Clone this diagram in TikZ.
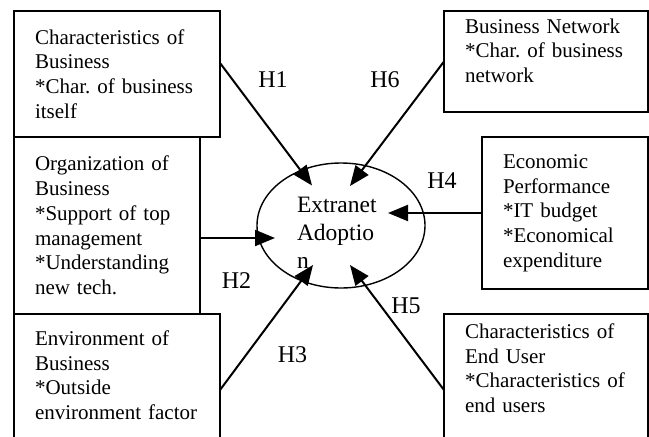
\documentclass[tikz,border=0pt]{standalone}
\usepackage{fontspec}
\setmainfont{Liberation Serif}
\usetikzlibrary{arrows.meta, shapes.geometric, calc}
\frenchspacing

\tikzset{
  factor/.style={
    rectangle, draw=black, line width=1.4pt, anchor=north west, outer sep=0pt,
    align=left, inner xsep=21pt, inner ysep=0pt,
    font=\fontsize{21}{24.7}\selectfont
  },
  hyp/.style={
    -{Triangle[length=20pt,width=16pt]}, line width=2pt
  }
}

\begin{document}
\begin{tikzpicture}[
  x=1pt, y=-1pt,
  core/.style={ellipse, draw=black, line width=1.4pt, minimum width=168pt, minimum height=125pt,
    inner sep=0pt, align=left, text width=88pt, text height=30pt, font=\fontsize{23.5}{28}\selectfont},
  hlabel/.style={inner sep=0pt, font=\fontsize{24}{28}\selectfont}
]
\useasboundingbox (0,0) rectangle (649,437);
\clip (0,0) rectangle (649,437);

% Factors, left side
\node[factor, minimum width=206pt, minimum height=126pt, text width=164pt] (char) at (14,11)
  {Characteristics of\\Business\\{}*Char. of business\\itself};
\node[factor, minimum width=186pt, minimum height=177pt, text width=144pt] (org) at (char.south west)
  {Organization of\\Business\\{}*Support of top\\management\\{}*Understanding\\new tech.};
\node[factor, minimum width=206pt, minimum height=130pt, text width=164pt, text depth=82pt] (env) at (org.south west)
  {Environment of\\Business\\{}*Outside\\environment factor};

% Factors, right side
\node[factor, minimum width=204pt, minimum height=101pt, text width=162pt, text depth=71pt] (net) at (444,11)
  {Business Network\\{}*Char. of business\\network};
\node[factor, minimum width=166pt, minimum height=152pt, text width=124pt] (econ) at (482,137)
  {Economic\\Performance\\{}*IT budget\\{}*Economical\\expenditure};
\node[factor, minimum width=204pt, minimum height=130pt, text width=162pt, text depth=96pt] (user) at (444,314)
  {Characteristics of\\End User\\{}*Characteristics of\\end users};

% Adoption
\node[core] (adopt) at (341,225.5) {Extranet\\Adoptio\\n};

\coordinate (t1) at ($(adopt.center)+(-29,-40)$);
\coordinate (t6) at ($(adopt.center)+(9,-39.5)$);
\coordinate (t2) at ($(adopt.center)+(-66,12.5)$);
\coordinate (t4) at ($(adopt.center)+(47,-12.5)$);
\coordinate (t3) at ($(adopt.center)+(-28,39.5)$);
\coordinate (t5) at ($(adopt.center)+(9,39.5)$);

\draw[hyp] ([yshift=11pt]char.east) -- (t1);
\draw[hyp] (net.west) -- (t6);
\draw[hyp] ([yshift=-12.5pt]org.east) -- (t2);
\draw[hyp] (econ.west) -- (t4);
\draw[hyp] ([yshift=-11pt]env.east) -- (t3);
\draw[hyp] ([yshift=-11pt]user.west) -- (t5);

% Hypotheses
\node[hlabel] (h1) at (273,80) {H1};
\node[hlabel] (h6) at (385,80) {H6};
\node[hlabel] (h4) at (442,181) {H4};
\node[hlabel] (h2) at (236.5,281) {H2};
\node[hlabel] (h3) at (292.5,355) {H3};
\node[hlabel] (h5) at (406,306) {H5};

\end{tikzpicture}
\end{document}
